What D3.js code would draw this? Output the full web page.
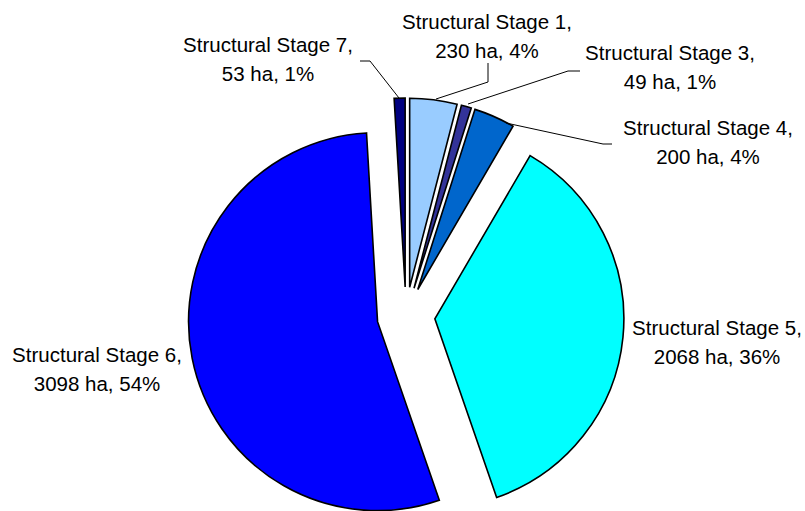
<!DOCTYPE html>
<html>
<head>
<meta charset="utf-8">
<script src="https://cdn.jsdelivr.net/npm/d3@7"></script>
<style>
  html, body { margin: 0; padding: 0; background: #fff; }
  svg { display: block; }
  text { font-family: "Liberation Sans", Arial, sans-serif; fill: #000; }
</style>
</head>
<body>
<div id="chart"></div>
<script>
// Area by structural stage (hectares), clockwise from 12 o'clock
const categories = ["Structural Stage 1", "Structural Stage 3", "Structural Stage 4",
                    "Structural Stage 5", "Structural Stage 6", "Structural Stage 7"];
const hectares = [230, 49, 200, 2068, 3098, 53];
const colors = ["#99CCFF", "#333399", "#0066CC", "#00FFFF", "#0000FF", "#000080"];

const W = 805, H = 511;
const cx = 406, cy = 316, R = 189, explode = 29;
const fontSize = 20.5, lineGap = 29;

// label anchor (centre of the first line) and leader line points per slice
const labelLayout = {
  "Structural Stage 1": { x: 487, y: 22, leader: [[488, 63], [488, 82], [436, 99]] },
  "Structural Stage 3": { x: 670, y: 53, leader: [[580, 71], [568, 71], [468, 104]] },
  "Structural Stage 4": { x: 708, y: 128, leader: [[612, 144], [603, 144], [506, 123]] },
  "Structural Stage 5": { x: 717, y: 328, leader: null },
  "Structural Stage 6": { x: 97, y: 355, leader: null },
  "Structural Stage 7": { x: 268, y: 45, leader: [[360, 61], [370, 61], [399, 98]] }
};

const data = categories.map((c, i) => ({ name: c, value: hectares[i], color: colors[i] }));
const total = d3.sum(hectares);

const svg = d3.select("#chart").append("svg")
  .attr("width", W).attr("height", H);

const pie = d3.pie().value(d => d.value).sort(null).startAngle(0).endAngle(2 * Math.PI);
const arc = d3.arc().innerRadius(0).outerRadius(R);
const arcs = pie(data);

// exploded slices
svg.append("g")
  .attr("transform", `translate(${cx},${cy})`)
  .selectAll("path")
  .data(arcs)
  .join("path")
  .attr("transform", d => {
    const a = (d.startAngle + d.endAngle) / 2;
    return `translate(${explode * Math.sin(a)},${-explode * Math.cos(a)})`;
  })
  .attr("d", arc)
  .attr("fill", d => d.data.color)
  .attr("stroke", "#000")
  .attr("stroke-width", 1.6)
  .attr("stroke-linejoin", "miter");

// leader lines
const line = d3.line();
svg.append("g")
  .selectAll("path")
  .data(arcs.filter(d => labelLayout[d.data.name].leader))
  .join("path")
  .attr("d", d => line(labelLayout[d.data.name].leader))
  .attr("fill", "none")
  .attr("stroke", "#000")
  .attr("stroke-width", 1);

// data labels: name on the first line, area and share on the second
const labels = svg.append("g")
  .selectAll("text")
  .data(arcs)
  .join("text")
  .attr("text-anchor", "middle")
  .attr("font-size", fontSize)
  .attr("x", d => labelLayout[d.data.name].x)
  .attr("y", d => labelLayout[d.data.name].y);

labels.append("tspan")
  .attr("x", d => labelLayout[d.data.name].x)
  .attr("dy", "0.35em")
  .text(d => d.data.name + ",");

labels.append("tspan")
  .attr("x", d => labelLayout[d.data.name].x)
  .attr("dy", lineGap)
  .text(d => `${d.data.value} ha, ${Math.round(d.data.value / total * 100)}%`);
</script>
</body>
</html>
